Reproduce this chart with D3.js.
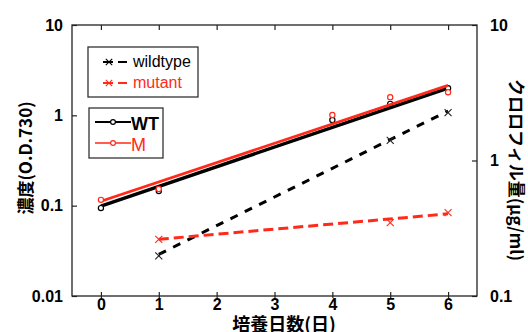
<!DOCTYPE html>
<html>
<head>
<meta charset="utf-8">
<script src="https://cdn.jsdelivr.net/npm/d3@7"></script>
<style>
  html, body { margin: 0; padding: 0; background: #fff; }
  svg { display: block; }
</style>
</head>
<body>
<div id="chart"></div>
<script>
// growth (O.D.730, left axis) - circles, solid fit lines
const odDays = [0, 1, 4, 5, 6]
const odWT = [0.094, 0.145, 0.89, 1.34, 2.0]
const odM = [0.116, 0.153, 1.01, 1.59, 1.80]
const odFitDays = [0, 6]
const odFitWT = [0.099, 2.0]
const odFitM = [0.112, 2.15]

// chlorophyll (ug/ml, right axis) - crosses, dashed fit lines
const chlDays = [1, 5, 6]
const chlWildtype = [0.198, 1.41, 2.26]
const chlMutant = [0.262, 0.348, 0.412]
const chlFitDays = [1, 6]
const chlFitWildtype = [0.203, 2.32]
const chlFitMutant = [0.262, 0.404]

const dayTicks = [0, 1, 2, 3, 4, 5, 6]
const leftTicks = [0.01, 0.1, 1, 10]
const rightTicks = [0.1, 1, 10]

const RED = "#ff2a1a"
const W = 528, H = 332
const frame = { left: 72, right: 477, top: 25, bottom: 296 }

const svg = d3.select("#chart").append("svg")
    .attr("width", W)
    .attr("height", H)

const x = d3.scaleLinear().domain([-0.5, 6.5]).range([frame.left, frame.right])
const yL = d3.scaleLog().domain([0.01, 10]).range([frame.bottom, frame.top])
const yR = d3.scaleLog().domain([0.1, 10]).range([frame.bottom, frame.top])

const tickFont = g => g.selectAll("text")
    .attr("font-family", "'Liberation Sans', Arial, sans-serif")
    .attr("font-weight", "bold")
    .attr("font-size", 16)
    .attr("fill", "#000")

// axes
const fmt = d => String(d)

svg.append("g")
    .attr("transform", `translate(${frame.left},0)`)
    .call(d3.axisLeft(yL).tickValues(leftTicks).tickFormat(fmt).tickSize(-5).tickPadding(9))
    .call(g => g.select(".domain").remove())
    .call(tickFont)

svg.append("g")
    .attr("transform", `translate(${frame.right},0)`)
    .call(d3.axisRight(yR).tickValues(rightTicks).tickFormat(fmt).tickSize(-5).tickPadding(13))
    .call(g => g.select(".domain").remove())
    .call(tickFont)

svg.append("g")
    .attr("transform", `translate(0,${frame.bottom})`)
    .call(d3.axisBottom(x).tickValues(dayTicks).tickFormat(fmt).tickSize(-4).tickPadding(3))
    .call(g => g.select(".domain").remove())
    .call(g => g.selectAll(".tick line").attr("y1", 2))
    .call(tickFont)

svg.append("g")
    .attr("transform", `translate(0,${frame.top})`)
    .call(d3.axisTop(x).tickValues(dayTicks).tickFormat("").tickSize(-5))
    .call(g => g.select(".domain").remove())

svg.selectAll(".tick line").attr("stroke", "#222").attr("stroke-width", 1.2)

svg.append("rect")
    .attr("x", frame.left)
    .attr("y", frame.top)
    .attr("width", frame.right - frame.left)
    .attr("height", frame.bottom - frame.top)
    .attr("fill", "none")
    .attr("stroke", "#222")
    .attr("stroke-width", 1.3)

// titles
const cjk = "'Noto Sans CJK JP', 'Noto Sans', sans-serif"

svg.append("text")
    .attr("transform", "translate(24,158) rotate(-90)")
    .attr("text-anchor", "middle")
    .attr("dominant-baseline", "central")
    .attr("font-family", cjk)
    .attr("font-weight", "bold")
    .attr("font-size", 17)
    .text("濃度(O.D.730)")

svg.append("text")
    .attr("transform", "translate(517,170) rotate(90)")
    .attr("text-anchor", "middle")
    .attr("dominant-baseline", "central")
    .attr("font-family", cjk)
    .attr("font-weight", "bold")
    .attr("font-size", 17)
    .text("クロロフィル量(μg/ml)")

svg.append("text")
    .attr("x", 284)
    .attr("y", 331)
    .attr("text-anchor", "middle")
    .attr("font-family", cjk)
    .attr("font-weight", "bold")
    .attr("font-size", 18)
    .text("培養日数(日)")

// marks
const plot = svg.append("g")

function fitLine(days, vals, scale, color, width, dash) {
    plot.append("path")
        .datum(days.map((d, i) => [d, vals[i]]))
        .attr("d", d3.line().x(d => x(d[0])).y(d => scale(d[1])))
        .attr("fill", "none")
        .attr("stroke", color)
        .attr("stroke-width", width)
        .attr("stroke-dasharray", dash)
}

function circles(days, vals, scale, color) {
    plot.append("g").selectAll("circle")
        .data(days.map((d, i) => [d, vals[i]]))
        .enter()
        .append("circle")
        .attr("cx", d => x(d[0]))
        .attr("cy", d => scale(d[1]))
        .attr("r", 2.6)
        .attr("fill", "#fff")
        .attr("stroke", color)
        .attr("stroke-width", 1.2)
}

const crossPath = s => `M${-s},${-s}L${s},${s}M${-s},${s}L${s},${-s}`

function crosses(days, vals, scale, color) {
    plot.append("g").selectAll("path")
        .data(days.map((d, i) => [d, vals[i]]))
        .enter()
        .append("path")
        .attr("transform", d => `translate(${x(d[0])},${scale(d[1])})`)
        .attr("d", crossPath(3.5))
        .attr("stroke", color)
        .attr("stroke-width", 1.1)
}

fitLine(chlFitDays, chlFitWildtype, yR, "#000", 3, "8,8")
fitLine(chlFitDays, chlFitMutant, yR, RED, 3, "10,5")
crosses(chlDays, chlWildtype, yR, "#222")
crosses(chlDays, chlMutant, yR, RED)

fitLine(odFitDays, odFitWT, yL, "#000", 3.4, null)
circles(odDays, odWT, yL, "#000")
fitLine(odFitDays, odFitM, yL, RED, 2.8, null)
circles(odDays, odM, yL, RED)

// legends
const legendFont = "'Liberation Sans', Arial, sans-serif"
const chlLegend = [
    { label: "wildtype", color: "#000" },
    { label: "mutant", color: RED },
]
const odLegend = [
    { label: "WT", color: "#000", weight: "bold" },
    { label: "M", color: RED, weight: "normal" },
]

svg.append("rect")
    .attr("x", 88).attr("y", 47).attr("width", 110).attr("height", 50)
    .attr("fill", "#fff").attr("stroke", "#333").attr("stroke-width", 1.3)

const l1 = svg.append("g").selectAll("g")
    .data(chlLegend)
    .enter()
    .append("g")
    .attr("transform", (d, i) => `translate(0,${62 + i * 21})`)

l1.append("line")
    .attr("x1", 103).attr("x2", 127)
    .attr("stroke", d => d.color).attr("stroke-width", 2)
    .attr("stroke-dasharray", "10,5")
l1.append("path")
    .attr("transform", "translate(109,0)")
    .attr("d", crossPath(3.2))
    .attr("stroke", d => d.color).attr("stroke-width", 1.1)
l1.append("text")
    .attr("x", 133).attr("y", 5)
    .attr("font-family", legendFont).attr("font-size", 16)
    .attr("fill", d => d.color)
    .text(d => d.label)

svg.append("rect")
    .attr("x", 89).attr("y", 108).attr("width", 74).attr("height", 50)
    .attr("fill", "#fff").attr("stroke", "#333").attr("stroke-width", 1.3)

const l2 = svg.append("g").selectAll("g")
    .data(odLegend)
    .enter()
    .append("g")
    .attr("transform", (d, i) => `translate(0,${122 + i * 21})`)

l2.append("line")
    .attr("x1", 95).attr("x2", 131)
    .attr("stroke", d => d.color).attr("stroke-width", (d, i) => i ? 1.5 : 2.2)
l2.append("circle")
    .attr("cx", 113).attr("r", 2.4)
    .attr("fill", "#fff").attr("stroke", d => d.color).attr("stroke-width", 1.2)
l2.append("text")
    .attr("x", 131).attr("y", 7.5)
    .attr("font-family", legendFont).attr("font-size", 18)
    .attr("font-weight", d => d.weight)
    .attr("fill", d => d.color)
    .text(d => d.label)
</script>
</body>
</html>
